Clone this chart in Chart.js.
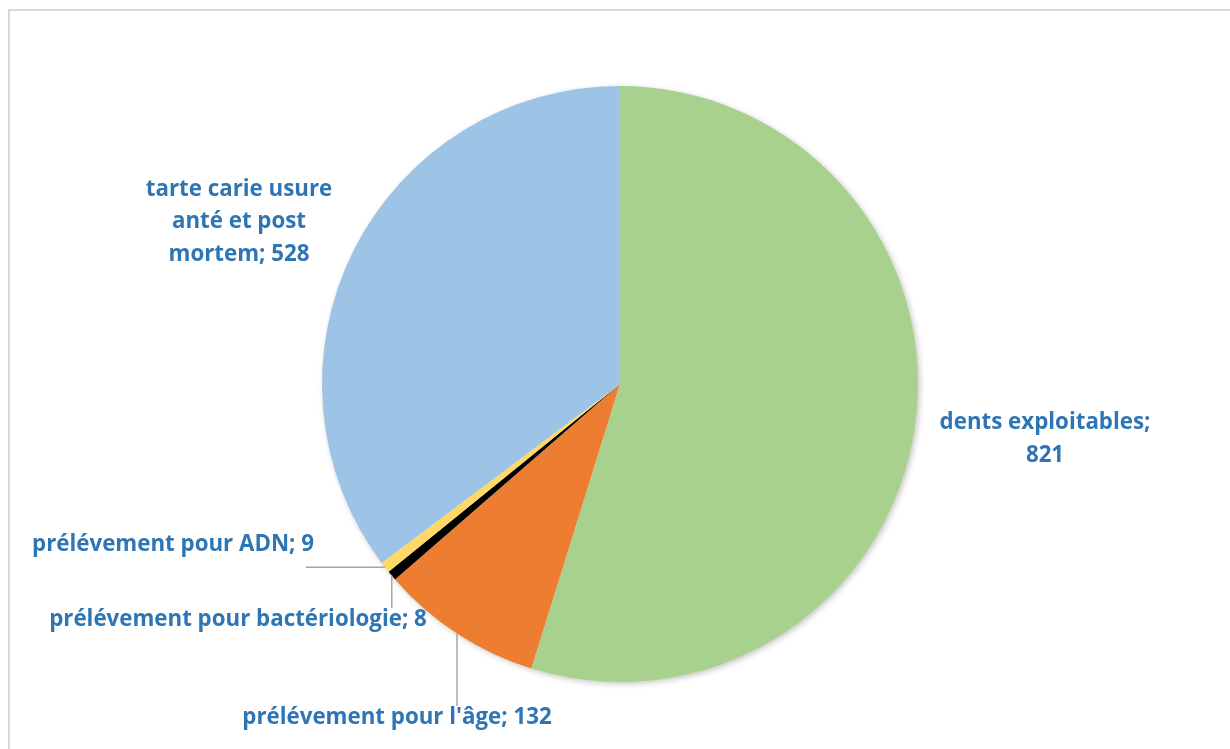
<!DOCTYPE html>
<html><head><meta charset="utf-8">
<script src="https://cdn.jsdelivr.net/npm/chart.js@4"></script>
<style>
html,body{margin:0;padding:0;background:#fff;}
#wrap{position:relative;width:1230px;height:749px;}
#frame{position:absolute;left:8px;top:9px;width:1240px;height:760px;border:2px solid #d9d9d9;box-sizing:border-box;}
canvas{position:absolute;left:0;top:0;}
</style></head>
<body><div id="wrap"><div id="frame"></div><canvas id="c" width="1230" height="749"></canvas></div>
<script>
const categories = ["dents exploitables", "prélévement pour l'âge", "prélévement pour bactériologie", "prélévement pour ADN", "tarte carie usure anté et post mortem"];
const values = [821, 132, 8, 9, 528];
const colors = ["#A9D18E", "#ED7D31", "#000000", "#FFD966", "#9DC3E6"];
// label layout: text lines, label centre offset from pie centre, leader line type
const labelLayout = [
  {lines:["dents exploitables;","821"], dx:425, dy:55, leader:null},
  {lines:["prélévement pour l'âge; 132"], dx:-223, dy:334, leader:"down"},
  {lines:["prélévement pour bactériologie; 8"], dx:-382, dy:236, leader:"down"},
  {lines:["prélévement pour ADN; 9"], dx:-447, dy:161, leader:"left"},
  {lines:["tarte carie usure","anté et post","mortem; 528"], dx:-381, dy:-162, leader:null}
];
const FONT = "bold 22.3px 'Open Sans', sans-serif";
const TEXT_COLOR = "#2E75B6";
const lineH = 32.5;

const labelPlugin = {
  id:'labels',
  beforeDatasetsDraw(chart){
    const ctx = chart.ctx;
    ctx.save();
    ctx.shadowColor = 'rgba(0,0,0,0.25)';
    ctx.shadowBlur = 6;
    ctx.shadowOffsetX = 2;
    ctx.shadowOffsetY = 2;
    const a = chart.getDatasetMeta(0).data[0];
    ctx.beginPath();
    ctx.arc(a.x, a.y, a.outerRadius - 0.5, 0, Math.PI*2);
    ctx.fillStyle = '#ffffff';
    ctx.fill();
    ctx.restore();
  },
  afterDatasetsDraw(chart){
    const ctx = chart.ctx;
    const meta = chart.getDatasetMeta(0);
    ctx.save();
    ctx.font = FONT;
    ctx.fillStyle = TEXT_COLOR;
    ctx.textAlign = 'center';
    ctx.textBaseline = 'middle';
    meta.data.forEach((arc, i) => {
      const L = labelLayout[i];
      const cx = arc.x + L.dx, cy = arc.y + L.dy;
      const n = L.lines.length;
      L.lines.forEach((t, k) => {
        ctx.fillText(t, cx, cy + (k - (n-1)/2)*lineH);
      });
      if (L.leader){
        const mid = (arc.startAngle + arc.endAngle)/2;
        const px = arc.x + Math.cos(mid)*arc.outerRadius;
        const py = arc.y + Math.sin(mid)*arc.outerRadius;
        ctx.strokeStyle = '#A6A6A6';
        ctx.lineWidth = 1.5;
        ctx.beginPath();
        ctx.moveTo(px, py);
        if (L.leader === 'down'){
          ctx.lineTo(px, cy - 12);
        } else {
          const w = ctx.measureText(L.lines[0]).width;
          ctx.lineTo(cx + w/2 - 8, py);
        }
        ctx.stroke();
      }
    });
    ctx.restore();
  }
};

new Chart(document.getElementById('c'), {
  type:'pie',
  data:{labels:categories, datasets:[{data:values, backgroundColor:colors, borderWidth:0}]},
  options:{
    responsive:false, animation:false,
    layout:{padding:{left:322, right:312, top:86, bottom:67}},
    plugins:{legend:{display:false}, tooltip:{enabled:false}}
  },
  plugins:[labelPlugin]
});
</script></body></html>
